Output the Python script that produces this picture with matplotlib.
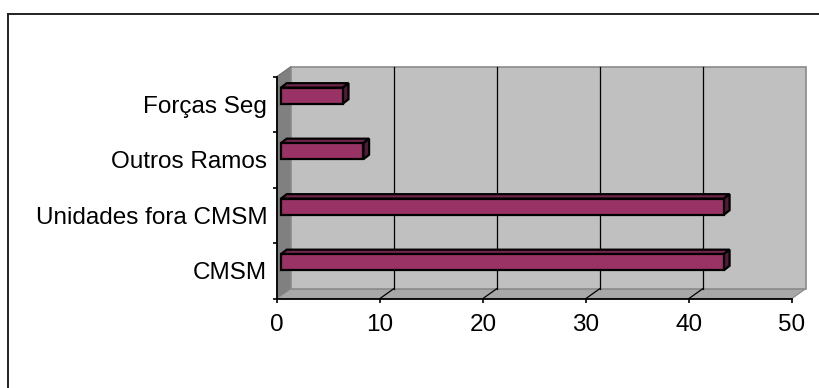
import matplotlib
matplotlib.use("Agg")
import matplotlib.pyplot as plt
from matplotlib.patches import Polygon
from matplotlib.lines import Line2D
import numpy as np

# Data
categories = ["CMSM", "Unidades fora CMSM", "Outros Ramos", "Forças Seg"]
values = [43, 43, 8, 6]
x_ticks = [0, 10, 20, 30, 40, 50]

# Styling
BAR_FRONT = "#993366"
BAR_TOP = "#72264C"
BAR_SIDE = "#521B37"
WALL_BACK = "#C0C0C0"
WALL_SIDE = "#808080"
FLOOR = "#A8A8A8"
FONT = "Liberation Sans"
FS = 17.5

W, H = 819, 388
fig = plt.figure(figsize=(W / 100, H / 100), dpi=100)
fig.patch.set_facecolor("white")

# Outer chart-area frame (open at right and bottom)
fig.add_artist(Line2D([8 / W, 1.0], [1 - 14 / H, 1 - 14 / H], color="#222222",
                      lw=1.4, transform=fig.transFigure))
fig.add_artist(Line2D([8 / W, 8 / W], [0, 1 - 14 / H], color="#222222",
                      lw=1.4, transform=fig.transFigure))

ax = fig.add_axes([277 / W, (H - 298.5) / H, 515 / W, 222 / H])
ax.set_facecolor("none")
XMAX = 50
y_lo, y_hi = -0.5, len(categories) - 0.5
ax.set_xlim(0, XMAX)
ax.set_ylim(y_lo, y_hi)

# Depth of the wall box, in data units
DX, DY = 1.36, 0.18

# Side wall, floor and back wall
ax.add_patch(Polygon([(0, y_lo), (DX, y_lo + DY), (DX, y_hi + DY), (0, y_hi)],
                     closed=True, facecolor=WALL_SIDE, edgecolor="#6E6E6E",
                     lw=0.8, zorder=1, clip_on=False))
ax.add_patch(Polygon([(0, y_lo), (XMAX, y_lo), (XMAX + DX, y_lo + DY), (DX, y_lo + DY)],
                     closed=True, facecolor=FLOOR, edgecolor="#8A8A8A",
                     lw=0.8, zorder=1, clip_on=False))
ax.add_patch(Polygon([(DX, y_lo + DY), (XMAX + DX, y_lo + DY),
                      (XMAX + DX, y_hi + DY), (DX, y_hi + DY)],
                     closed=True, facecolor=WALL_BACK, edgecolor="#8A8A8A",
                     lw=1.2, zorder=1, clip_on=False))

# Gridlines on back wall and floor
for v in x_ticks[1:-1]:
    ax.add_line(Line2D([v + DX, v + DX], [y_lo + DY, y_hi + DY], color="black",
                       lw=0.9, zorder=2, clip_on=False))
    ax.add_line(Line2D([v, v + DX], [y_lo, y_lo + DY], color="black",
                       lw=0.9, zorder=2, clip_on=False))

# 3D bars
X0 = 0.39          # front-face start offset
YOFF = 0.155       # front face raised toward the back
BH = 0.29          # front-face height
BDX, BDY = 0.55, 0.08  # bar depth
ypos = np.arange(len(categories))
ax.barh(ypos + YOFF, values, left=X0, height=BH, color=BAR_FRONT,
        edgecolor="black", linewidth=1.6, zorder=4)
for y, v in zip(ypos, values):
    yb = y + YOFF - BH / 2
    yt = y + YOFF + BH / 2
    xe = X0 + v
    ax.add_patch(Polygon([(X0, yt), (xe, yt), (xe + BDX, yt + BDY), (X0 + BDX, yt + BDY)],
                         closed=True, facecolor=BAR_TOP, edgecolor="black",
                         lw=1.6, zorder=3, clip_on=False))
    ax.add_patch(Polygon([(xe, yb), (xe, yt), (xe + BDX, yt + BDY), (xe + BDX, yb + BDY)],
                         closed=True, facecolor=BAR_SIDE, edgecolor="black",
                         lw=1.6, zorder=3, clip_on=False))

# Axes
for s in ("top", "right"):
    ax.spines[s].set_visible(False)
for s in ("left", "bottom"):
    ax.spines[s].set_color("black")
    ax.spines[s].set_linewidth(1.3)
    ax.spines[s].set_zorder(5)

ax.set_xticks(x_ticks)
ax.set_xticklabels([str(t) for t in x_ticks], fontsize=FS, family=FONT)
ax.tick_params(axis="x", direction="out", length=3, width=1.2, pad=8, color="black")

ax.set_yticks(ypos)
ax.set_yticklabels(categories, fontsize=FS, family=FONT)
ax.set_yticks(np.arange(y_lo, y_hi + 0.01, 1.0), minor=True)
ax.tick_params(axis="y", which="major", length=0, pad=7)
ax.tick_params(axis="y", which="minor", direction="out", length=3, width=1.2, color="black")

fig.savefig("out.png", dpi=100)
